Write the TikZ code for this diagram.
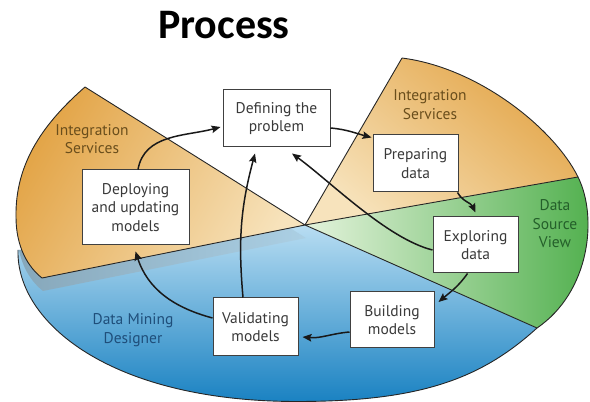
\documentclass[tikz,border=0pt]{standalone}
\usepackage{fontspec}
\setmainfont{PT Sans}
\newfontfamily\titlefont{Carlito}
\usetikzlibrary{arrows.meta}

\definecolor{orgdark}{HTML}{E3A548}
\definecolor{orglight}{HTML}{F7E3BC}
\definecolor{grnlight}{HTML}{E4F3DC}
\definecolor{grndark}{HTML}{4FAF4C}
\definecolor{blulight}{HTML}{B8DDF2}
\definecolor{bludark}{HTML}{1A82C2}
\definecolor{shadowc}{HTML}{86A7BA}
\definecolor{isbrown}{HTML}{6A4E1C}
\definecolor{dsvgreen}{HTML}{245F2A}
\definecolor{dmdblue}{HTML}{1F4E7A}
\definecolor{boxtext}{HTML}{3A3A3A}

\begin{document}
\begin{tikzpicture}[x=1pt,y=1pt,
  edge/.style={draw=black!85, line width=0.9pt, line join=round},
  stepbox/.style={draw=black!75, line width=1pt, fill=white, align=center,
    inner sep=0pt, text=boxtext, font=\fontsize{15.5}{18.5}\selectfont},
  region/.style={align=center, font=\fontsize{15.5}{18.5}\selectfont},
  flow/.style={-{Stealth[length=9pt,width=7.5pt,inset=1.5pt]}, line width=1.5pt, draw=black!90},
]
\useasboundingbox (0,0) rectangle (590,402);

\coordinate (O) at (305,177);

% rims of the four sectors
\def\bluerim{(18,152) .. controls (16,80) and (110,0.5) .. (297,0.5) .. controls (420,0.5) and (481,23) .. (537,74)}
\def\greenrim{(578,225) .. controls (598,185) and (590,110) .. (537,74)}
\def\orangerim{(402,344) .. controls (480,334) and (555,272) .. (578,225)}
\def\leftrim{(85,315) .. controls (45,280) and (15,240) .. (16,185) .. controls (16,155) and (28,135) .. (42,124)}

% Data Mining Designer sector
\path[top color=blulight, bottom color=bludark] (O) -- \bluerim -- cycle;
\begin{scope}
  \clip (O) -- \bluerim -- cycle;
  % shadow cast by the pulled-out sector
  \shade[left color=shadowc, right color=blulight!75!shadowc, shift={(1,-13)}]
    (305,177) -- \leftrim -- cycle;
\end{scope}
\draw[edge] \bluerim;

% Data Source View sector
\path[left color=grnlight, right color=grndark] (O) -- \greenrim -- cycle;
\draw[edge] \greenrim;

% Integration Services sector (right)
\path[top color=orgdark, bottom color=orglight, shading angle=-40] (O) -- \orangerim -- cycle;
\draw[edge] \orangerim;

% dividing lines
\draw[edge] (537,74) -- (O) -- (578,225);
\draw[edge] (O) -- (402,344);

% Integration Services sector (left, pulled out)
\path[top color=orgdark, bottom color=orglight, shading angle=60] (O) -- \leftrim -- cycle;
\draw[edge] (O) -- \leftrim -- cycle;

% sector labels
\node[region, text=isbrown] (isleft) at (92,263) {Integration\\Services};
\node[region, text=isbrown] (isright) at (430,297.5) {Integration\\Services};
\node[region, text=dsvgreen] (dsv) at (555,178) {Data\\Source\\View};
\node[region, text=dmdblue] (dmd) at (133,72) {Data Mining\\Designer};

% title
\node[font=\titlefont\bfseries\fontsize{42}{46}\selectfont] (title) at (224,376.5) {Process};

% process steps
\node[stepbox, minimum width=107pt, minimum height=57pt] (def) at (276.5,283.5) {Defining the\\problem};
\node[stepbox, minimum width=85pt, minimum height=57pt] (prep) at (415.5,238.5) {Preparing\\data};
\node[stepbox, minimum width=85pt, minimum height=56pt] (expl) at (475.5,157) {Exploring\\data};
\node[stepbox, minimum width=84pt, minimum height=56pt] (build) at (392,82) {Building\\models};
\node[stepbox, minimum width=85pt, minimum height=58pt] (valid) at (255.5,75) {Validating\\models};
\node[stepbox, minimum width=107pt, minimum height=75pt] (deploy) at (135.5,194.5) {Deploying\\and updating\\models};

% flow between the steps
\draw[flow] ([xshift=2.5pt]deploy.north) to[out=80,in=195] ([xshift=-2pt,yshift=-8.5pt]def.west);
\draw[flow] ([yshift=-9.5pt]def.east) to[out=-5,in=165] ([xshift=-1pt,yshift=-3pt]prep.north west);
\draw[flow] ([xshift=-1pt]prep.south east) to[out=-60,in=115] ([yshift=4pt]expl.north);
\draw[flow] ([yshift=-5pt]expl.west) to[out=166,in=-36,looseness=0.7] ([xshift=15.5pt,yshift=-6pt]def.south);
\draw[flow] ([xshift=-8pt]expl.south) to[out=-125,in=40] ([xshift=4pt,yshift=18pt]build.east);
\draw[flow] ([yshift=-12pt]build.west) to[out=185,in=-5] ([xshift=4pt,yshift=-10pt]valid.east);
\draw[flow] ([xshift=-12.5pt]valid.north) to[out=95,in=-105] ([xshift=-21.5pt,yshift=-6pt]def.south);
\draw[flow] ([yshift=9pt]valid.west) to[out=165,in=-72] ([yshift=-6pt]deploy.south);
\end{tikzpicture}
\end{document}
